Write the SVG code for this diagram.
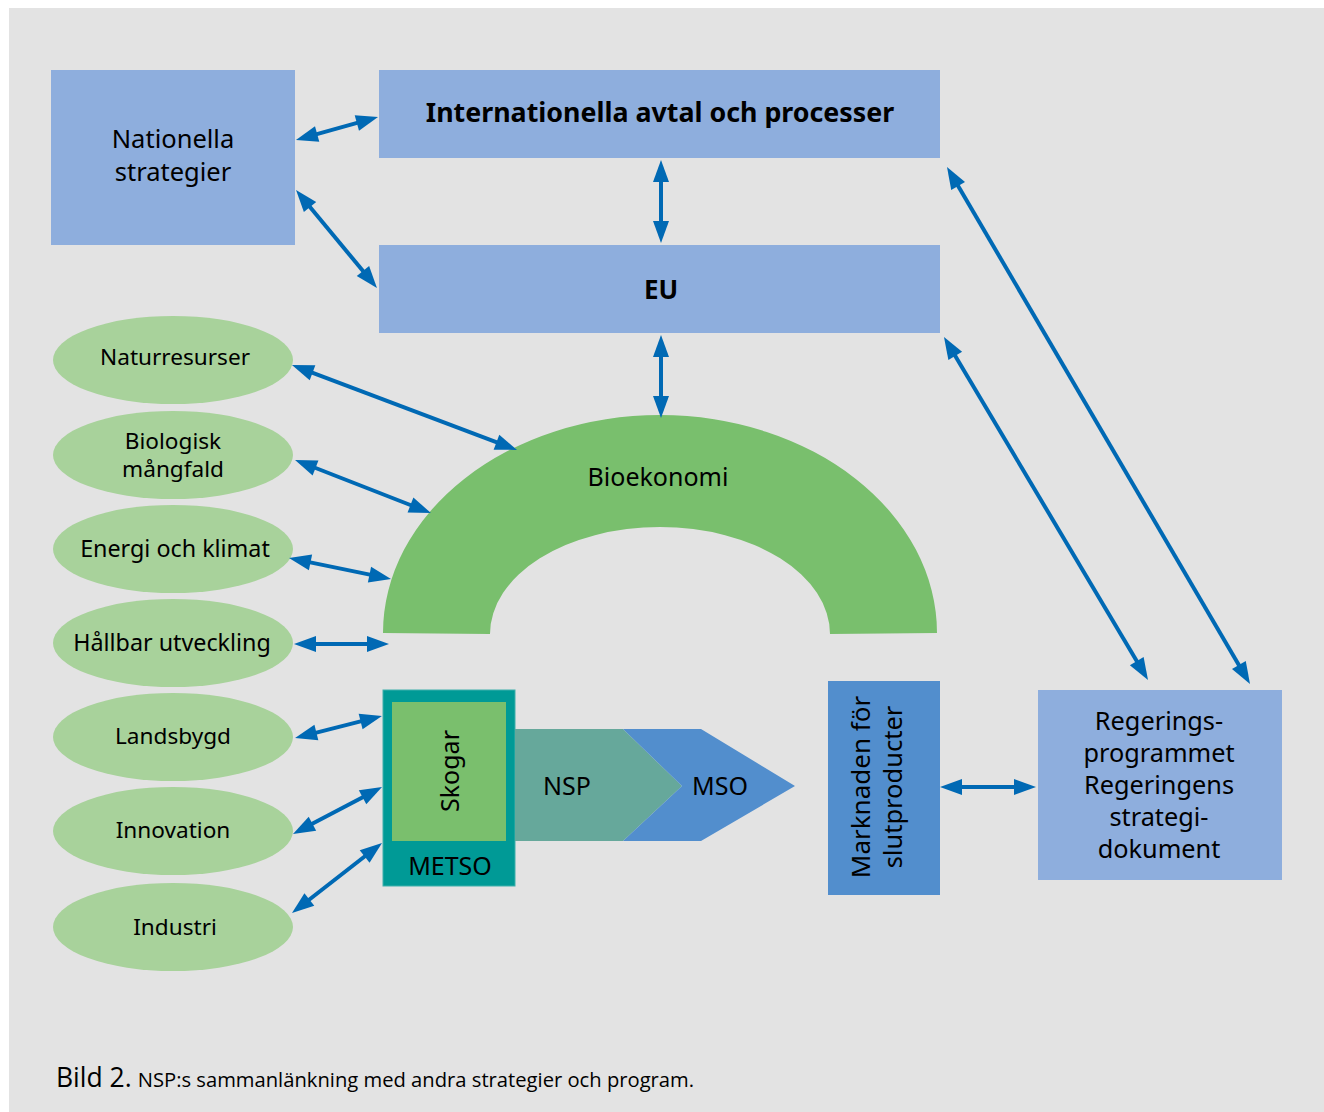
<svg xmlns="http://www.w3.org/2000/svg" width="1324" height="1112" viewBox="0 0 1324 1112">
<style>
.t{font-family:"Noto Sans","Open Sans","Liberation Sans",sans-serif;fill:#000;text-anchor:middle}
.lb{fill:#8eaedd}
.el{fill:#a8d29b}
.ar{stroke:#0069b4;stroke-width:4;fill:none;marker-start:url(#ah);marker-end:url(#ah)}
</style>
<defs>
<marker id="ah" markerUnits="userSpaceOnUse" markerWidth="30" markerHeight="24" refX="4" refY="8" orient="auto-start-reverse" overflow="visible">
<path d="M0,0 L22,8 L0,16 Z" fill="#0069b4"/>
</marker>
</defs>
<rect x="0" y="0" width="1324" height="1112" fill="#ffffff"/>
<rect x="9" y="8" width="1315" height="1104" fill="#e3e3e3"/>

<g id="nationella"><rect class="lb" x="51" y="70" width="244" height="175"/>
<text class="t" x="173" y="148" font-size="25.5">Nationella</text>
<text class="t" x="173" y="181" font-size="25.5">strategier</text></g>

<g id="internationella"><rect class="lb" x="379" y="70" width="561" height="88"/>
<text class="t" x="660" y="122" font-size="26.8" font-weight="bold">Internationella avtal och processer</text></g>

<g id="eu"><rect class="lb" x="379" y="245" width="561" height="88"/>
<text class="t" x="661" y="299" font-size="26" font-weight="bold">EU</text></g>

<g id="bioekonomi"><path d="M383,633 A277,218 0 0 1 937,633 L830,634 A170,107 0 0 0 490,634 Z" fill="#79bf6d"/>
<text class="t" x="658" y="486" font-size="25">Bioekonomi</text></g>

<g id="naturresurser"><ellipse class="el" cx="173" cy="360" rx="120" ry="44"/>
<text class="t" x="175" y="365" font-size="22.6">Naturresurser</text></g>
<g id="biologisk"><ellipse class="el" cx="173" cy="455" rx="120" ry="44"/>
<text class="t" x="173" y="449" font-size="22.6">Biologisk</text>
<text class="t" x="173" y="477" font-size="22.6">mångfald</text></g>
<g id="energi"><ellipse class="el" cx="173" cy="549" rx="120" ry="44"/>
<text class="t" x="175" y="557" font-size="23.3">Energi och klimat</text></g>
<g id="hallbar"><ellipse class="el" cx="173" cy="643" rx="120" ry="44"/>
<text class="t" x="172" y="651" font-size="23.3">Hållbar utveckling</text></g>
<g id="landsbygd"><ellipse class="el" cx="173" cy="737" rx="120" ry="44"/>
<text class="t" x="173" y="744" font-size="22.6">Landsbygd</text></g>
<g id="innovation"><ellipse class="el" cx="173" cy="831" rx="120" ry="44"/>
<text class="t" x="173" y="838" font-size="22.6">Innovation</text></g>
<g id="industri"><ellipse class="el" cx="173" cy="927" rx="120" ry="44"/>
<text class="t" x="175" y="935" font-size="22.6">Industri</text></g>

<g id="metso"><rect x="383" y="690" width="132" height="196" fill="#009a96" stroke="#3fb0ab" stroke-width="1"/>
<rect x="392" y="702" width="114" height="139" fill="#7abf6d"/>
<text class="t" transform="translate(459,771) rotate(-90)" font-size="25">Skogar</text>
<text class="t" x="450" y="875" font-size="25">METSO</text></g>

<g id="nsp"><polygon points="515,729 623,729 682,786 623,841 515,841" fill="#66a89b"/>
<text class="t" x="567" y="795" font-size="25">NSP</text></g>
<g id="mso"><polygon points="623,729 701,729 795,786 701,841 623,841 682,786" fill="#528ecd"/>
<text class="t" x="720" y="795" font-size="25">MSO</text></g>

<g id="marknaden"><rect x="828" y="681" width="112" height="214" fill="#528ecd"/>
<text class="t" transform="translate(870,787) rotate(-90)" font-size="26">Marknaden för</text>
<text class="t" transform="translate(902,787) rotate(-90)" font-size="25.5">slutproducter</text></g>

<g id="regerings"><rect class="lb" x="1038" y="690" width="244" height="190"/>
<text class="t" x="1159" y="730" font-size="25.3">Regerings-</text>
<text class="t" x="1159" y="762" font-size="25.3">programmet</text>
<text class="t" x="1159" y="794" font-size="25.3">Regeringens</text>
<text class="t" x="1159" y="826" font-size="25.3">strategi-</text>
<text class="t" x="1159" y="858" font-size="25.3">dokument</text></g>

<g id="connectors">
<line class="ar" x1="313.3" y1="135.1" x2="360.7" y2="121.9"/>
<line class="ar" x1="307.5" y1="203.9" x2="365.5" y2="274.1"/>
<line class="ar" x1="661" y1="178" x2="661" y2="225"/>
<line class="ar" x1="661" y1="353" x2="661" y2="400"/>
<line class="ar" x1="956.1" y1="182.5" x2="1240.9" y2="668.5"/>
<line class="ar" x1="953.2" y1="352.5" x2="1138.8" y2="664.5"/>
<line class="ar" x1="308.8" y1="371.4" x2="500.2" y2="443.6"/>
<line class="ar" x1="311.8" y1="466.5" x2="414.2" y2="506.5"/>
<line class="ar" x1="306.6" y1="561.6" x2="373.4" y2="575.4"/>
<line class="ar" x1="312" y1="644" x2="371" y2="644"/>
<line class="ar" x1="312.5" y1="733.6" x2="364.5" y2="720.4"/>
<line class="ar" x1="308.9" y1="825.6" x2="366.1" y2="795.4"/>
<line class="ar" x1="306.2" y1="902" x2="367.8" y2="854"/>
<line class="ar" x1="958" y1="787" x2="1018" y2="787"/>
</g>

<text x="56" y="1087" font-family="'Open Sans','Noto Sans','Liberation Sans',sans-serif" font-size="26.5" fill="#000">Bild 2.<tspan font-size="20.2" dx="6">NSP:s sammanlänkning med andra strategier och program.</tspan></text>
</svg>
